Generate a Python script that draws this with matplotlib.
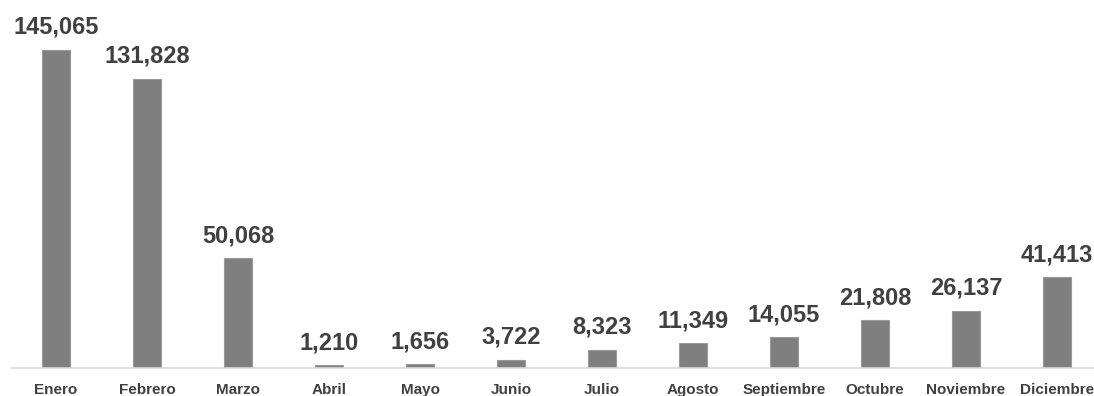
import matplotlib.pyplot as plt
import numpy as np

meses = ["Enero", "Febrero", "Marzo", "Abril", "Mayo", "Junio", "Julio",
         "Agosto", "Septiembre", "Octubre", "Noviembre", "Diciembre"]
valores = [145065, 131828, 50068, 1210, 1656, 3722, 8323,
           11349, 14055, 21808, 26137, 41413]

plt.rcParams['font.family'] = ['Liberation Sans', 'DejaVu Sans']

W, H = 1094, 396
fig = plt.figure(figsize=(W / 100, H / 100), dpi=100)
# axes placed in pixel terms: baseline at y=368, category spacing 91 px
ax = fig.add_axes([10.5 / W, 28 / H, 1092 / W, 350.7 / H])

x = np.arange(len(meses))
ax.bar(x, valores, width=0.31, color="#7f7f7f", edgecolor="#9a9a9a", linewidth=0.8)

for xi, v in zip(x, valores):
    ax.annotate(f"{v:,}", (xi, v), xytext=(0, 8), textcoords="offset points",
                ha="center", va="bottom", fontsize=17, fontweight="bold", color="#404040")

ax.set_xlim(-0.5, len(meses) - 0.5)
ax.set_ylim(0, 160000)
ax.set_xticks(x)
ax.set_xticklabels(meses, fontsize=11, fontweight="bold", color="#404040")
ax.tick_params(axis="x", length=0, pad=11)
ax.set_yticks([])
for s in ["top", "right", "left"]:
    ax.spines[s].set_visible(False)
ax.spines["bottom"].set_color("#d9d9d9")
ax.spines["bottom"].set_linewidth(1.2)

fig.savefig("out.png", dpi=100)
